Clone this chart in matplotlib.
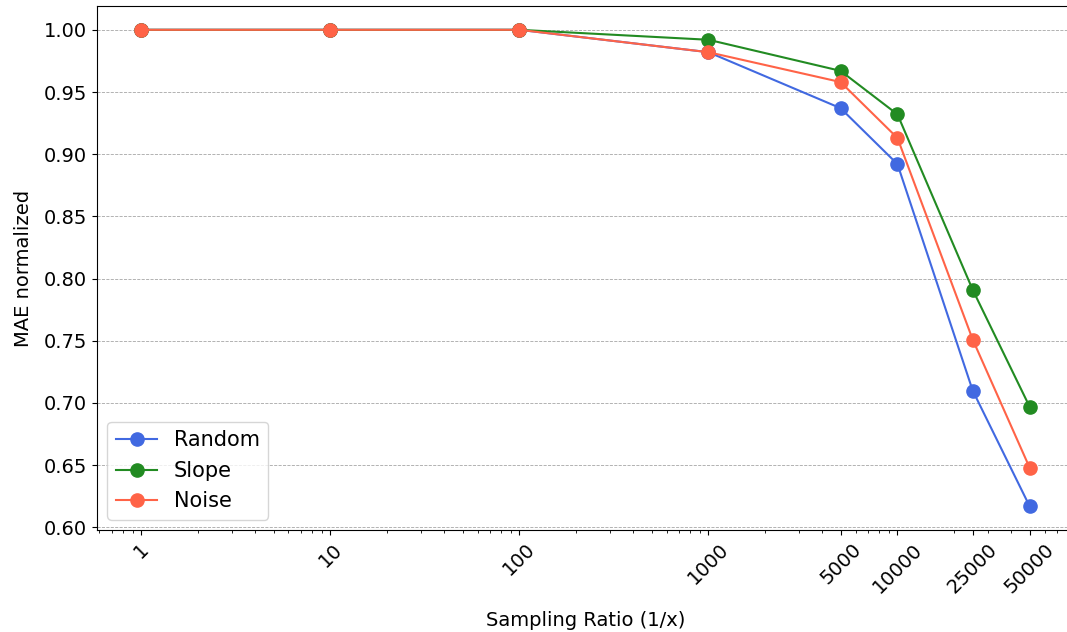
import matplotlib
matplotlib.use('Agg')
import matplotlib.pyplot as plt

ratios = [1, 10, 100, 1000, 5000, 10000, 25000, 50000]
tick_labels = ['1', '10', '100', '1000', '5000', '10000', '25000', '50000']

mae_random = [1.0, 1.0, 1.0, 0.982, 0.937, 0.892, 0.710, 0.617]
mae_slope = [1.0, 1.0, 1.0, 0.992, 0.967, 0.932, 0.791, 0.697]
mae_noise = [1.0, 1.0, 1.0, 0.982, 0.958, 0.913, 0.751, 0.648]

fig = plt.figure(figsize=(10.67, 6.32), dpi=100)
ax = fig.add_axes([97 / 1067, 102 / 632, 977 / 1067, 524 / 632])

ax.plot(ratios, mae_random, marker='o', markersize=9.5, color='royalblue', label='Random')
ax.plot(ratios, mae_slope, marker='o', markersize=9.5, color='forestgreen', label='Slope')
ax.plot(ratios, mae_noise, marker='o', markersize=9.5, color='tomato', label='Noise')

ax.set_xscale('log')
ax.set_xticks(ratios)
ax.set_xticklabels(tick_labels, rotation=45, fontsize=14)
ax.tick_params(axis='y', labelsize=14)
ax.set_xlabel('Sampling Ratio (1/x)', fontsize=14, labelpad=10)
ax.set_ylabel('MAE normalized', fontsize=14, labelpad=8)
ax.grid(axis='y', linestyle='--', linewidth=0.6, color='gray', alpha=0.7)
ax.legend(loc='lower left', fontsize=15)

fig.savefig('out.png', dpi=100)
